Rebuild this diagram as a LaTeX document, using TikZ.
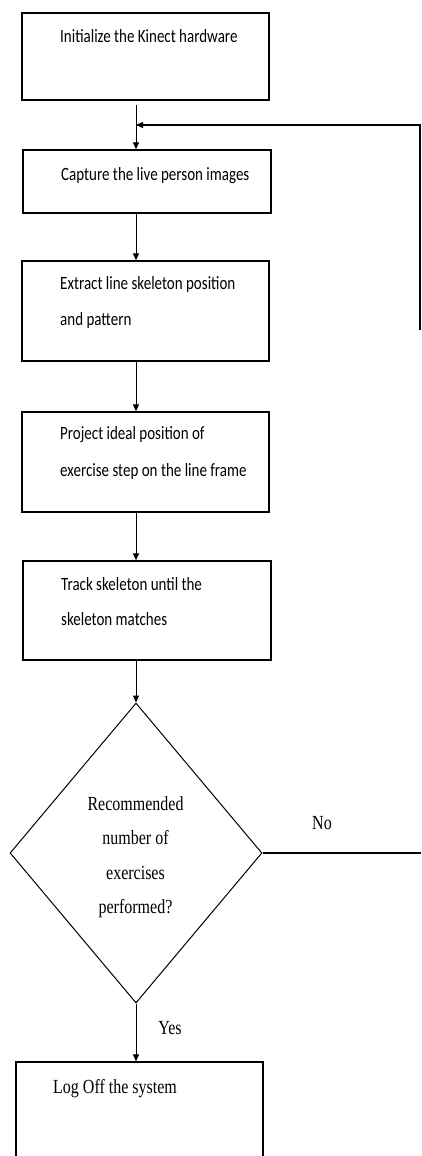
\documentclass[tikz,border=0pt]{standalone}
\usepackage{fontspec}
\usepackage{graphicx}
\newfontfamily\sansf{Carlito}
\newfontfamily\serf{Liberation Serif}
\usetikzlibrary{shapes.geometric,arrows.meta}
\newcommand{\tallt}[1]{\scalebox{1}[1.25]{#1}}
\tikzset{
  stepbox/.style={draw=black,line width=1.3pt,inner sep=0pt,rectangle},
  sanstext/.style={anchor=west,inner sep=0pt,font=\sansf\fontsize{15}{18}\selectfont},
  seriftext/.style={inner sep=0pt,font=\serf\fontsize{16}{19}\selectfont},
  flow/.style={draw=black,line width=1pt,-{Triangle[width=6pt,length=7pt]}},
  plainline/.style={draw=black,line width=1pt}
}
\begin{document}
\begin{tikzpicture}[x=1pt,y=-1pt]
\useasboundingbox (0,0) rectangle (421,1156);
\clip (0,0) rectangle (421,1156);
% boxes
\node[stepbox,minimum width=247pt,minimum height=87pt] (b1) at (145.5,56.5) {};
\node[stepbox,minimum width=248pt,minimum height=63pt] (b2) at (147,181.5) {};
\node[stepbox,minimum width=247pt,minimum height=100pt] (b3) at (145.5,311) {};
\node[stepbox,minimum width=247pt,minimum height=100pt] (b4) at (145.5,462) {};
\node[stepbox,minimum width=248pt,minimum height=99pt] (b5) at (147,610.5) {};
\node[draw=black,line width=1pt,diamond,inner sep=0pt,minimum width=252pt,minimum height=300pt] (dia) at (136,853) {};
\node[stepbox,minimum width=247pt,minimum height=120pt] (b6) at (139.5,1122) {};
% texts
\node[sanstext] (t1) at (60,36) {\tallt{Initialize the Kinect hardware}};
\node[sanstext] (t2) at (61,176) {\tallt{Capture the live person images}};
\node[sanstext] (t3a) at (60,284) {\tallt{Extract line skeleton position}};
\node[sanstext] (t3b) at (60,320) {\tallt{and pattern}};
\node[sanstext] (t4a) at (60,435) {\tallt{Project ideal position of}};
\node[sanstext] (t4b) at (60,471) {\tallt{exercise step on the line frame}};
\node[sanstext] (t5a) at (61,584) {\tallt{Track skeleton until the}};
\node[sanstext] (t5b) at (61,619) {\tallt{skeleton matches}};
\node[seriftext] (d1) at (135.5,804) {\tallt{Recommended}};
\node[seriftext] (d2) at (135.5,838) {\tallt{number of}};
\node[seriftext] (d3) at (135.5,873) {\tallt{exercises}};
\node[seriftext] (d4) at (135.5,909) {\tallt{performed?}};
\node[seriftext] (no) at (322,823) {\tallt{No}};
\node[seriftext] (yes) at (170,1028) {\tallt{Yes}};
\node[seriftext,anchor=west] (t6) at (53,1089) {\tallt{Log Off the system}};
% connectors
\coordinate (fbtop) at (420,125);
\coordinate (fbbot) at (420,330);
\coordinate (noend) at (421,853);
\coordinate (fbtip) at (137,125);
\draw[flow,shorten <=4pt] (b1.south -| dia.north) -- (b2.north -| dia.north);
\draw[flow] (b2.south -| dia.north) -- (b3.north -| dia.north);
\draw[flow] (b3.south -| dia.north) -- (b4.north -| dia.north);
\draw[flow] (b4.south -| dia.north) -- (b5.north -| dia.north);
\draw[flow] (b5.south -| dia.north) -- (dia.north);
\draw[flow] (dia.south) -- (b6.north -| dia.south);
\draw[plainline,line width=1.5pt] (dia.east) -- (noend);
\draw[flow,line width=1.2pt,shorten >=-1pt] (fbbot) -- (fbtop) -- (fbtip);
\end{tikzpicture}
\end{document}
